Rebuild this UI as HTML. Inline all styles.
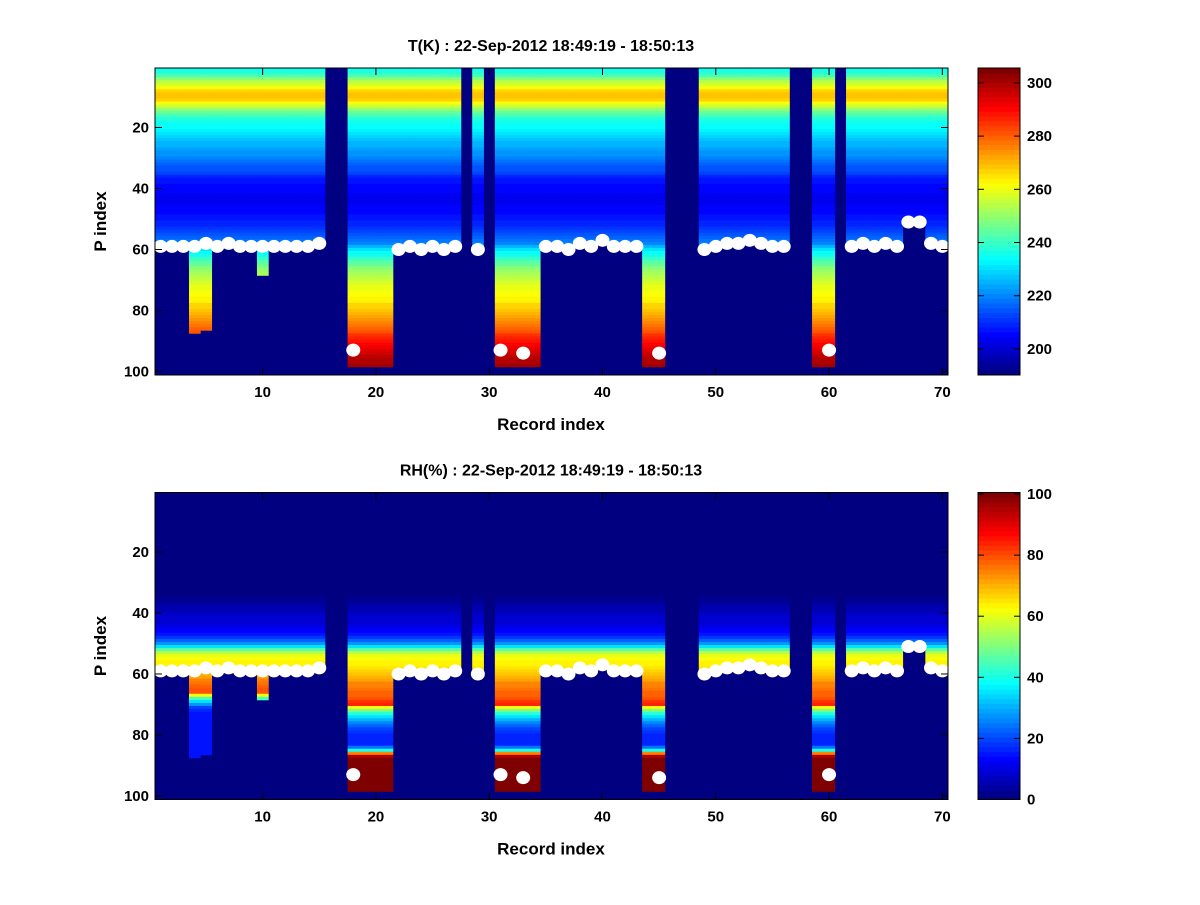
<!DOCTYPE html>
<html><head><meta charset="utf-8"><style>
body{margin:0;background:#fff;}
svg text{font-family:"Liberation Sans",sans-serif;font-weight:bold;fill:#000;}
</style></head><body>
<svg id="chart" width="1200" height="900" viewBox="0 0 1200 900" xmlns="http://www.w3.org/2000/svg">
<rect width="1200" height="900" fill="#fff"/>
</svg>
<script>
// ---- data ----
const records = Array.from({length:70},(_,i)=>i+1);
const missingRecords = [16,17,28,30,46,47,48,57,58,61];
const surfaceDots = {1:59,2:59,3:59,4:59,5:58,6:59,7:58,8:59,9:59,10:59,11:59,12:59,13:59,14:59,15:58,18:93,22:60,23:59,24:60,25:59,26:60,27:59,29:60,31:93,33:94,35:59,36:59,37:60,38:58,39:59,40:57,41:59,42:59,43:59,45:94,49:60,50:59,51:58,52:58,53:57,54:58,55:59,56:59,60:93,62:59,63:58,64:59,65:58,66:59,67:51,68:51,69:58,70:59};
const dataBottom = {4:87,5:86,10:68,18:98,19:98,20:98,21:98,31:98,32:98,33:98,34:98,44:98,45:98,59:98,60:98};
const shallowCols = [4,5,10];
const tProfile = [236,238,242,248,254,258,262,266,268,268,266,262,256,250,245,241,238,236,235,234,233,231,229,228,226,225,224,222,221,220,218,217,215,214,212,210,208,207,206,205,205,204,204,204,204,205,205,206,207,208,209,210,211,212,214,216,218,220,
226,230,234,237,240,243,246,248,250,252,254,256,258,259,260,261,262,263,264,266,267,268,270,272,274,276,278,280,282,284,286,288,290,292,294,296,298,299,300,301];
const rhProfile = [1,1,1,1,1,1,1,1,1,1,1,1,1,1,1,1,1,1,1,1,1,1,1,1,1,1,1,1,1,1,1,1,1,1,2,3,4,5,6,7,8,8,9,10,11,13,15,18,22,28,36,46,55,60,62,63,64,65,
66,68,70,72,74,75,76,77,78,80,82,84,62,50,42,36,30,26,22,20,18,17,16,16,17,25,40,75,95,100,100,100,100,100,100,100,100,100,100,100];
const rhShallow = {59:68,60:70,61:72,62:74,63:76,64:78,65:80,66:80,67:62,68:45,69:35,70:28,71:20,72:17,73:15,74:15,75:15,76:15,77:15,78:15,79:15,80:15,81:15,82:15,83:15,84:15,85:15,86:15,87:15};
const xTicks=[10,20,30,40,50,60,70];
const yTicks=[20,40,60,80,100];
const tBarTicks=[200,220,240,260,280,300];
const rhBarTicks=[0,20,40,60,80,100];

const NS="http://www.w3.org/2000/svg";
const svg=document.getElementById('chart');
function el(tag,attrs,parent){const e=document.createElementNS(NS,tag);for(const k in attrs)e.setAttribute(k,attrs[k]);(parent||svg).appendChild(e);return e;}
function jet(v){v=Math.max(0,Math.min(1,v));v=Math.floor(v*63.999)/63+0.0001;
 const r=Math.max(0,Math.min(1,1.5-Math.abs(4*v-3))),g=Math.max(0,Math.min(1,1.5-Math.abs(4*v-2))),b=Math.max(0,Math.min(1,1.5-Math.abs(4*v-1)));
 return `rgb(${Math.round(r*255)},${Math.round(g*255)},${Math.round(b*255)})`;}

function panel(cfg){
 const L=155,R=948,T=cfg.top,B=cfg.top+307;
 const x=v=>L+(v-0.5)*(R-L)/70;
 const y=v=>T+(v-0.5)*3.05;
 const g=el('g',{});
 
 
 const bg=el('rect',{x:L,y:T,width:R-L,height:B-T,fill:jet(0)},g);
 
 
 const cells=el('g',{},g);
 
 
 records.forEach(c=>{
  if(missingRecords.includes(c))return;
  const bottom=dataBottom[c]||surfaceDots[c];
  for(let r=1;r<=bottom;r++){
   const val=cfg.value(c,r);
   const v=(val-cfg.min)/(cfg.max-cfg.min);
   const rc=el('rect',{x:x(c-0.5),y:y(r-0.5),width:(R-L)/70+0.4,height:3.05+0.4,fill:jet(v)},cells);
   
   
  }
 });
 const dots=el('g',{},g);
 
 
 Object.keys(surfaceDots).forEach(k=>{
  const d=el('ellipse',{cx:x(+k),cy:y(surfaceDots[k]),rx:7,ry:6.5,fill:'#fff'},dots);
  
  
 });
 el('rect',{x:L,y:T,width:R-L,height:B-T,fill:'none',stroke:'#000','stroke-width':1},g);
 xTicks.forEach(t=>{
  el('line',{x1:x(t),x2:x(t),y1:B,y2:B-7,stroke:'#000'},g);
  el('line',{x1:x(t),x2:x(t),y1:T,y2:T+7,stroke:'#000'},g);
  const tx=el('text',{x:x(t),y:B+22,'text-anchor':'middle','font-size':15},g);tx.textContent=t;
  
  
 });
 yTicks.forEach(t=>{
  el('line',{x1:L,x2:L+7,y1:y(t),y2:y(t),stroke:'#000'},g);
  el('line',{x1:R,x2:R-7,y1:y(t),y2:y(t),stroke:'#000'},g);
  const tx=el('text',{x:L-6,y:y(t)+5,'text-anchor':'end','font-size':15},g);tx.textContent=t;
  
  
 });
 const ti=el('text',{x:551,y:T-17,'text-anchor':'middle','font-size':16},g);ti.textContent=cfg.title;
 
 
 const xl=el('text',{x:551,y:B+55,'text-anchor':'middle','font-size':17},g);xl.textContent='Record index';
 
 
 const yl=el('text',{x:106,y:(T+B)/2,'text-anchor':'middle','font-size':17,transform:`rotate(-90 106 ${(T+B)/2})`},g);yl.textContent='P index';
 
 
 // colorbar
 const cb=el('g',{},g);
 
 
 const CL=978,CR=1020;
 for(let i=0;i<64;i++){
  const h=(B-T)/64;
  el('rect',{x:CL,y:B-(i+1)*h,width:CR-CL,height:h+0.5,fill:jet((i+0.5)/64)},cb);
 }
 el('rect',{x:CL,y:T,width:CR-CL,height:B-T,fill:'none',stroke:'#000'},cb);
 cfg.barTicks.forEach(t=>{
  const yy=B-(t-cfg.min)/(cfg.max-cfg.min)*(B-T);
  el('line',{x1:CL,x2:CL+6,y1:yy,y2:yy,stroke:'#000'},cb);
  el('line',{x1:CR,x2:CR-6,y1:yy,y2:yy,stroke:'#000'},cb);
  const tx=el('text',{x:CR+7,y:yy+5,'font-size':15},cb);tx.textContent=t;
  
  
 });
}
panel({name:'temperature',top:68,min:190.2,max:305.6,title:'T(K) : 22-Sep-2012 18:49:19 - 18:50:13',barTicks:tBarTicks,
 value:(c,r)=>tProfile[r-1]});
panel({name:'humidity',top:492.5,min:0,max:100.5,title:'RH(%) : 22-Sep-2012 18:49:19 - 18:50:13',barTicks:rhBarTicks,
 value:(c,r)=>(shallowCols.includes(c)&&r>58&&rhShallow[r]!==undefined)?rhShallow[r]:rhProfile[r-1]});
</script>
</body></html>
